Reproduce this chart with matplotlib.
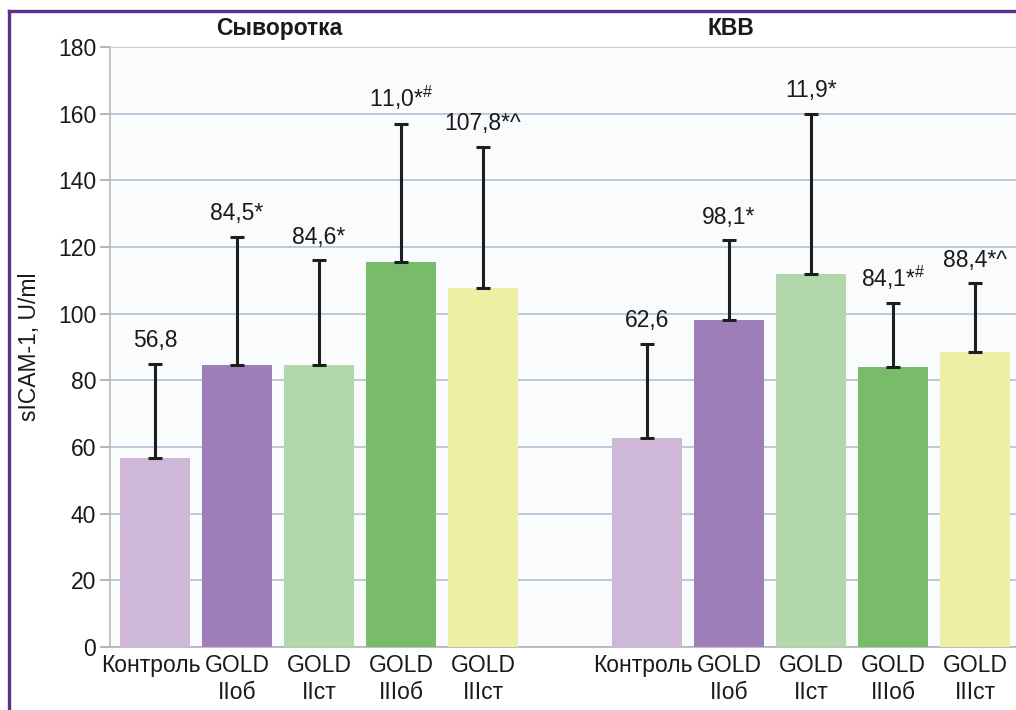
import matplotlib
matplotlib.use("Agg")
import matplotlib.pyplot as plt
import matplotlib.transforms as mtransforms
from matplotlib.lines import Line2D
import numpy as np

plt.rcParams['font.family'] = ['Liberation Sans', 'DejaVu Sans']
plt.rcParams['mathtext.fontset'] = 'custom'
plt.rcParams['mathtext.rm'] = 'Liberation Sans'
plt.rcParams['mathtext.it'] = 'Liberation Sans'

# Groups and categories
groups = ["Сыворотка", "КВВ"]
categories = ["Контроль", "GOLD\nIIоб", "GOLD\nIIст", "GOLD\nIIIоб", "GOLD\nIIIст"]

# Mean values, U/ml
serum_mean = [56.8, 84.5, 84.6, 115.5, 107.8]
ebc_mean = [62.6, 98.1, 111.9, 84.1, 88.4]

# Standard deviations (upper whiskers)
serum_sd = [28.2, 38.5, 31.4, 41.5, 42.2]
ebc_sd = [28.4, 23.9, 48.1, 19.0, 20.7]

# Value labels above whiskers
serum_labels = ["56,8", "84,5*", "84,6*", "11,0*$^{\\#}$", "107,8*^"]
ebc_labels = ["62,6", "98,1*", "11,9*", "84,1*$^{\\#}$", "88,4*^"]

bar_colors = ["#cfb8d7", "#9e7eb8", "#b2d7aa", "#77bb6b", "#eeeea5"]

FS = 16.5

fig = plt.figure(figsize=(10.16, 7.10), dpi=100)
fig.patch.set_facecolor("white")
ax = fig.add_axes([110 / 1016, 63 / 710, 906 / 1016, 600 / 710])
ax.set_facecolor("#fafbfd")

n = len(categories)
x_serum = np.arange(n)
x_ebc = np.arange(n) + n + 1
width = 0.85

for xs, means, sds, labels in [(x_serum, serum_mean, serum_sd, serum_labels),
                               (x_ebc, ebc_mean, ebc_sd, ebc_labels)]:
    ax.bar(xs, means, width=width, color=bar_colors, zorder=3)
    ax.errorbar(xs, means, yerr=[np.zeros(n), sds], fmt="none",
                ecolor="#1e1e1e", elinewidth=2.2, capsize=5, capthick=2.2,
                zorder=4)
    for xi, m, s, lab in zip(xs, means, sds, labels):
        ax.text(xi, m + s + 3.5, lab, ha="center", va="bottom",
                fontsize=FS, color="#1a1a1a", zorder=5)

# Group titles
ax.text(1.52, 185.5, groups[0], ha="center", va="center", fontsize=FS,
        fontweight="bold", color="#1a1a1a", clip_on=False)
ax.text(7.02, 185.5, groups[1], ha="center", va="center", fontsize=FS,
        fontweight="bold", color="#1a1a1a", clip_on=False)

ax.set_xlim(-0.55, 10.5)
ax.set_ylim(0, 180)
ax.set_yticks(np.arange(0, 181, 20))
ax.yaxis.grid(True, color="#bccadc", linewidth=1.4, zorder=0)
ax.set_axisbelow(True)

ax.set_xticks(np.concatenate([x_serum, x_ebc]))
ax.set_xticklabels(categories * 2, fontsize=FS, color="#1a1a1a",
                   linespacing=1.25)
ax.tick_params(axis="x", length=0, pad=5)
ax.tick_params(axis="y", length=7, width=1.2, color="#a8a8b0",
               labelsize=FS, labelcolor="#1a1a1a", pad=3)

# Nudge the single-line control labels a little to the left
shift = mtransforms.ScaledTranslation(-4 / 100, 0, fig.dpi_scale_trans)
for lbl in ax.get_xticklabels():
    if "\n" not in lbl.get_text():
        lbl.set_transform(lbl.get_transform() + shift)

for side in ["top", "right"]:
    ax.spines[side].set_visible(False)
ax.spines["left"].set_color("#c4b4b8")
ax.spines["left"].set_linewidth(1.2)
ax.spines["bottom"].set_color("#b0b4bc")
ax.spines["bottom"].set_linewidth(1.2)

ax.set_ylabel("sICAM-1, U/ml", fontsize=FS, color="#1a1a1a", labelpad=12)

# Purple frame along the top and left edges
fig.add_artist(Line2D([9 / 1016, 1.0], [1 - 11 / 710, 1 - 11 / 710],
                      transform=fig.transFigure, color="#5c2e8f", linewidth=2.4))
fig.add_artist(Line2D([9 / 1016, 9 / 1016], [0, 1 - 11 / 710],
                      transform=fig.transFigure, color="#5c2e8f", linewidth=2.4))

fig.savefig("out.png", dpi=100, facecolor="white")
